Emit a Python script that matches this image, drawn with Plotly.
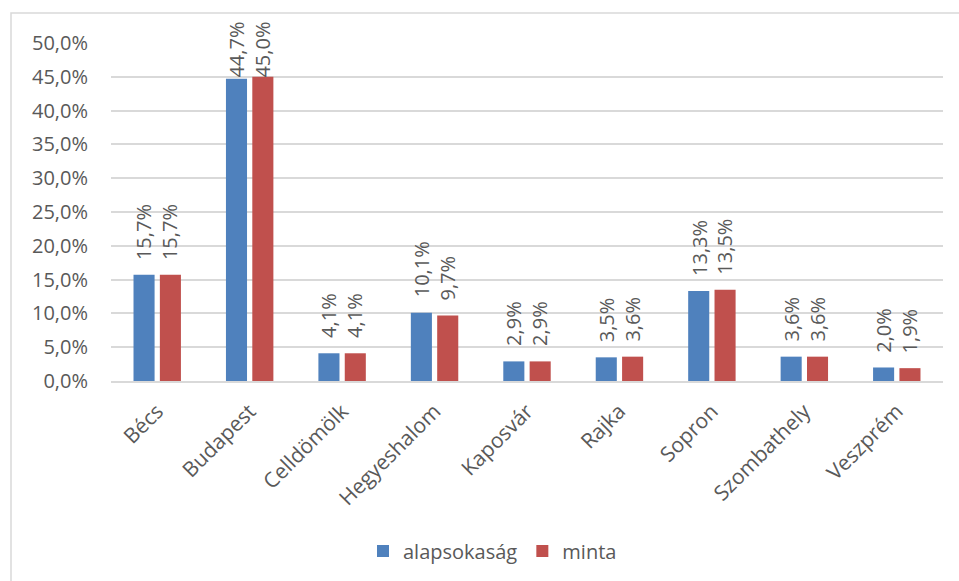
import plotly.graph_objects as go

# Share of respondents by city: population vs. sample
cities = ["Bécs", "Budapest", "Celldömölk", "Hegyeshalom", "Kaposvár",
          "Rajka", "Sopron", "Szombathely", "Veszprém"]
alapsokasag = [0.157, 0.447, 0.041, 0.101, 0.029, 0.035, 0.133, 0.036, 0.020]
minta = [0.157, 0.450, 0.041, 0.097, 0.029, 0.036, 0.135, 0.036, 0.019]
y_ticks = [0.0, 0.05, 0.10, 0.15, 0.20, 0.25, 0.30, 0.35, 0.40, 0.45, 0.50]

BLUE = "#4F81BD"
RED = "#C0504D"
TEXT = "#595959"
GRID = "#D9D9D9"
FONT = "Open Sans"
FS = 20

W, H = 959, 581
L, R, T, B = 111, 16, 43, 199
pw, ph = W - L - R, H - T - B
Y_MAX = 0.5

LABEL_GAP = 13       # px between bar top and its label
LABEL_FLOOR = 80     # lowest allowed pixel row for a label's bottom edge near the frame top

fig = go.Figure()
fig.add_trace(go.Bar(name="alapsokaság", x=cities, y=alapsokasag,
                     marker=dict(color=BLUE, line=dict(width=0))))
fig.add_trace(go.Bar(name="minta", x=cities, y=minta,
                     marker=dict(color=RED, line=dict(width=0))))

# Vertical value labels above each bar, kept inside the chart frame
annotations = []
for vals, dx in ((alapsokasag, -13), (minta, 13)):
    for c, v in zip(cities, vals):
        bar_top_px = T + ph * (1 - v / Y_MAX)
        label_bottom_px = max(bar_top_px - LABEL_GAP, LABEL_FLOOR)
        annotations.append(dict(
            x=c, y=v, xref="x", yref="y", xshift=dx,
            yshift=bar_top_px - label_bottom_px,
            text=f"{v * 100:.1f}%".replace(".", ","),
            textangle=-90, showarrow=False, xanchor="center", yanchor="bottom",
            font=dict(family=FONT, size=FS, color=TEXT),
        ))

# Chart-area frame (only top and left edges fall inside the view)
shapes = [dict(
    type="rect", xref="paper", yref="paper",
    x0=(11 - L) / pw, x1=(W + 20 - L) / pw,
    y0=-(H + 20 - T - ph) / ph, y1=1 + (T - 13) / ph,
    line=dict(color=GRID, width=1.5), fillcolor="rgba(0,0,0,0)", layer="below",
)]

fig.update_layout(
    width=W, height=H,
    margin=dict(l=L, r=R, t=T, b=B, pad=0),
    paper_bgcolor="white", plot_bgcolor="white",
    separators=",.",
    barmode="group", bargap=0.43, bargroupgap=0.2,
    font=dict(family=FONT, size=FS, color=TEXT),
    showlegend=True,
    legend=dict(orientation="h", x=(363 - L) / pw, xanchor="left",
                y=(T + ph - 551) / ph, yanchor="middle",
                font=dict(family=FONT, size=FS, color=TEXT),
                itemwidth=30, tracegroupgap=0),
    annotations=annotations,
    shapes=shapes,
)
fig.update_xaxes(
    tickangle=-45, showgrid=False, showline=True, linecolor=GRID, linewidth=1.5,
    tickfont=dict(family=FONT, size=21, color=TEXT), ticks="",
    ticklabelstandoff=8,
)
fig.update_yaxes(
    range=[0, Y_MAX], tickvals=y_ticks, tickformat=".1%",
    showgrid=True, gridcolor=GRID, gridwidth=1.5, zeroline=False,
    showline=False, ticks="", ticklabelstandoff=22,
    tickfont=dict(family=FONT, size=FS, color=TEXT),
)

fig.write_html("out.html")
